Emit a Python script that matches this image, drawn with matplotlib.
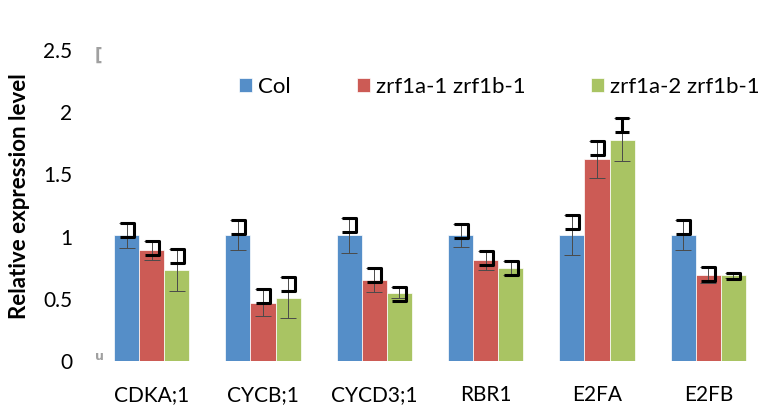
import numpy as np
import matplotlib
matplotlib.use('Agg')
import matplotlib.pyplot as plt
from matplotlib.path import Path

plt.rcParams['font.family'] = ['Lato', 'DejaVu Sans']

genes = ['CDKA;1', 'CYCB;1', 'CYCD3;1', 'RBR1', 'E2FA', 'E2FB']
series = ['Col', 'zrf1a-1 zrf1b-1', 'zrf1a-2 zrf1b-1']
col = [1.01, 1.01, 1.01, 1.01, 1.01, 1.01]
col_err = [0.10, 0.12, 0.14, 0.09, 0.16, 0.12]
m1 = [0.89, 0.47, 0.65, 0.81, 1.62, 0.69]
m1_err = [0.075, 0.107, 0.094, 0.075, 0.147, 0.065]
m2 = [0.73, 0.51, 0.55, 0.75, 1.78, 0.69]
m2_err = [0.17, 0.163, 0.047, 0.055, 0.17, 0.02]

colors = ['#558ec8', '#cc5b55', '#a9c463']

# bracket-like cap glyphs seen on top of each error bar
bracket = Path([(-0.5, 0), (0.5, 0), (0.5, -1), (-0.5, -1)],
               [Path.MOVETO, Path.LINETO, Path.LINETO, Path.LINETO])
ibeam = Path([(-0.5, 0), (0.5, 0), (0, 0), (0, -1), (-0.5, -1), (0.5, -1)],
             [Path.MOVETO, Path.LINETO, Path.MOVETO, Path.LINETO, Path.MOVETO, Path.LINETO])
flat = Path([(-0.5, 0), (0.5, 0), (0.5, -0.45), (-0.5, -0.45)],
            [Path.MOVETO, Path.LINETO, Path.LINETO, Path.LINETO])

fig = plt.figure(figsize=(7.69, 4.08), dpi=100)
ax = fig.add_axes([96 / 769, 47 / 408, 668 / 769, 311 / 408])

x = np.arange(len(genes))
w = 0.225
vals = [col, m1, m2]
errs = [col_err, m1_err, m2_err]
for i in range(3):
    xs = x + (i - 1) * w
    ax.bar(xs, vals[i], w, color=colors[i], edgecolor='white', linewidth=0.5,
           label=series[i], zorder=2)
    ax.errorbar(xs, vals[i], yerr=errs[i], fmt='none', ecolor='#4a4a4a',
                elinewidth=0.7, capsize=5.8, capthick=0.7, zorder=3)
    tops = np.array(vals[i]) + np.array(errs[i])
    for j in range(len(genes)):
        mk = bracket
        ms = 20
        if i == 2 and genes[j] == 'E2FA':
            mk = ibeam
        if i == 2 and genes[j] == 'E2FB':
            mk = flat
            ms = 9.5
        ax.plot(xs[j], tops[j], ls='none', marker=mk, ms=ms, mec='black',
                mew=2.2, mfc='none', zorder=4)

ax.set_xlim(-0.5, 5.5)
ax.set_ylim(0, 2.5)
ax.set_yticks([0, 0.5, 1, 1.5, 2, 2.5])
ax.set_yticklabels(['0', '0.5', '1', '1.5', '2', '2.5'])
ax.set_xticks(x)
ax.set_xticklabels(genes)
ax.tick_params(axis='both', length=0, labelsize=15, colors='black')
ax.tick_params(axis='y', pad=17)
ax.tick_params(axis='x', pad=17)
for s in ax.spines.values():
    s.set_visible(False)

fig.text(20 / 769, 1 - 196 / 408, 'Relative expression level', rotation=90,
         fontsize=16, fontweight='bold', ha='center', va='center')

ax.legend(loc='center left', bbox_to_anchor=(143 / 668, 1 - 37 / 311), ncol=3,
          frameon=False, fontsize=16, handlelength=0.6, handleheight=0.6,
          handletextpad=0.27, columnspacing=2.95, borderpad=0, borderaxespad=0)

# small grey marks at the ends of the value axis
fig.text(98.5 / 769, 1 - 56 / 408, '[', fontsize=12, fontweight='bold',
         color='#a0a0a0', ha='center', va='center', family='DejaVu Sans')
fig.text(99.5 / 769, 1 - 357 / 408, 'u', fontsize=9, fontweight='bold',
         color='#a0a0a0', ha='center', va='center', family='DejaVu Sans')

plt.savefig('out.png', dpi=100)
